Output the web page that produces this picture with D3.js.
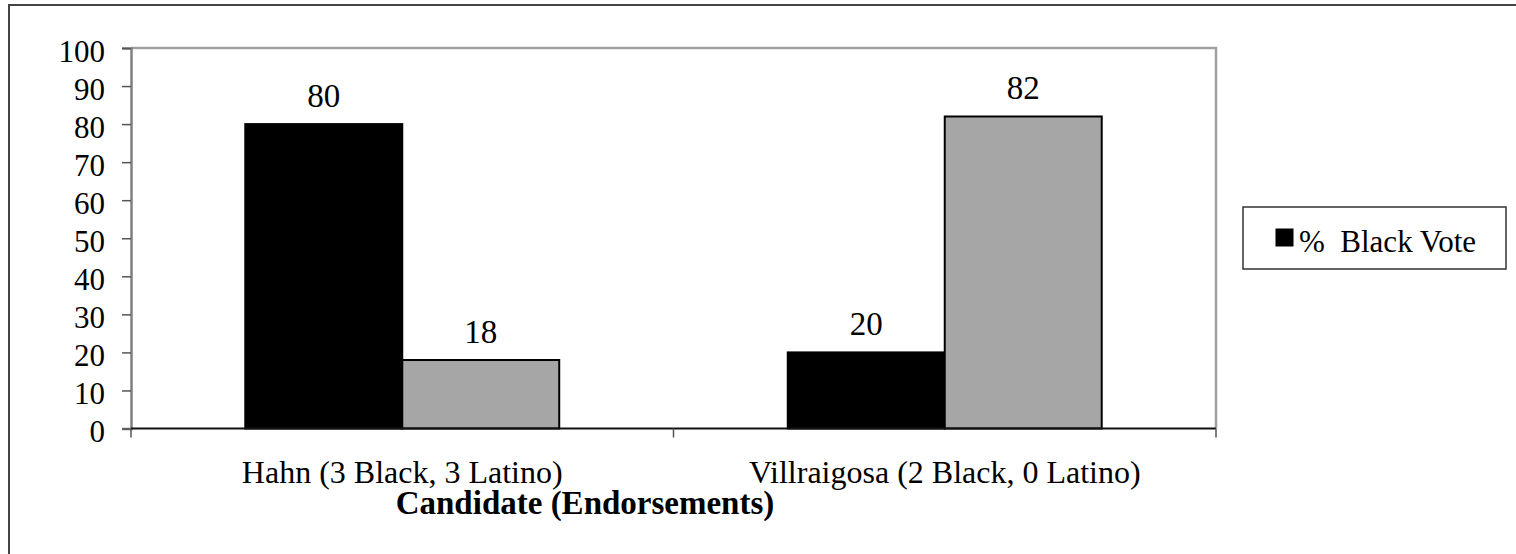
<!DOCTYPE html>
<html>
<head>
<meta charset="utf-8">
<script src="https://cdn.jsdelivr.net/npm/d3@7"></script>
<style>
  html, body { margin: 0; padding: 0; background: #fff; }
  svg { display: block; }
  svg text { font-family: "Liberation Serif", "Times New Roman", "DejaVu Serif", serif !important; fill: #000; }
</style>
</head>
<body>
<svg id="chart" width="1516" height="554"></svg>
<script>
// Candidates and their endorsements
const categories = ["Hahn (3 Black, 3 Latino)", "Villraigosa (2 Black, 0 Latino)"];
const seriesNames = ["% Black Vote", "% Latino Vote"];
const blackVote = [80, 20];
const latinoVote = [18, 82];
const yTicks = [0, 10, 20, 30, 40, 50, 60, 70, 80, 90, 100];
const xTitle = "Candidate (Endorsements)";
const legendLabel = "%  Black Vote";

const seriesColors = ["#000000", "#a6a6a6"];

const svg = d3.select("#chart").attr("font-family", "Liberation Serif, serif");
const TICK_FONT = 31;
const LABEL_FONT = 32;
const VALUE_FONT = 33;
const TITLE_FONT = 33;

// outer chart frame (open to the right and bottom)
svg.append("path")
  .attr("d", "M9,560 L9,5 L1520,5")
  .attr("fill", "none")
  .attr("stroke", "#444")
  .attr("stroke-width", 2);

const plot = { left: 131, right: 1216, top: 48, bottom: 428.5 };

const x0 = d3.scaleBand().domain(categories).range([plot.left, plot.right]).padding(0);
const x1 = d3.scaleBand().domain(seriesNames).range([0, x0.bandwidth()])
  .paddingInner(0).paddingOuter(0.728);
const y = d3.scaleLinear().domain([0, 100]).range([plot.bottom, plot.top]);

// plot-area border (top and right)
svg.append("path")
  .attr("d", `M${plot.left},${plot.top} L${plot.right},${plot.top} L${plot.right},${plot.bottom}`)
  .attr("fill", "none")
  .attr("stroke", "#a0a0a0")
  .attr("stroke-width", 2.5);

// bars
const rows = categories.map((c, i) => ({ cat: c, values: [blackVote[i], latinoVote[i]] }));
const groups = svg.append("g").selectAll("g").data(rows).join("g")
  .attr("transform", d => `translate(${x0(d.cat)},0)`);

groups.selectAll("rect")
  .data(d => d.values.map((v, j) => ({ name: seriesNames[j], value: v, color: seriesColors[j] })))
  .join("rect")
  .attr("x", d => x1(d.name))
  .attr("y", d => y(d.value))
  .attr("width", x1.bandwidth())
  .attr("height", d => y(0) - y(d.value))
  .attr("fill", d => d.color)
  .attr("stroke", "#000")
  .attr("stroke-width", 2);

// value labels
groups.selectAll("text.val")
  .data(d => d.values.map((v, j) => ({ name: seriesNames[j], value: v })))
  .join("text")
  .attr("class", "val")
  .attr("x", d => x1(d.name) + x1.bandwidth() / 2)
  .attr("y", d => y(d.value) - 17)
  .attr("text-anchor", "middle")
  .attr("font-size", VALUE_FONT)
  .text(d => d.value);

// y axis
const yAxis = d3.axisLeft(y).tickValues(yTicks).tickSize(9).tickPadding(0).tickFormat(d3.format("d"));
const gy = svg.append("g").attr("transform", `translate(${plot.left},0)`).call(yAxis)
  .attr("font-family", null).attr("font-size", null);
gy.select(".domain").attr("stroke", "#808080").attr("stroke-width", 2.5);
gy.selectAll(".tick line").attr("stroke", "#555").attr("stroke-width", 1.5);
gy.selectAll(".tick text")
  .attr("x", -26)
  .attr("dy", 13)
  .attr("font-size", TICK_FONT)
  .attr("fill", "#000");

// x axis with ticks on category boundaries
const gx = svg.append("g").attr("transform", `translate(0,${plot.bottom})`);
gx.append("line")
  .attr("x1", plot.left).attr("x2", plot.right)
  .attr("stroke", "#111").attr("stroke-width", 2);
const boundaries = [x0(categories[0])].concat(categories.map(c => x0(c) + x0.bandwidth()));
gx.selectAll("line.tk").data(boundaries).join("line")
  .attr("class", "tk")
  .attr("x1", d => d).attr("x2", d => d)
  .attr("y1", 0).attr("y2", 9)
  .attr("stroke", "#555").attr("stroke-width", 1.5);
gx.selectAll("text.cat").data(categories).join("text")
  .attr("class", "cat")
  .attr("x", d => x0(d) + x0.bandwidth() / 2)
  .attr("y", 54)
  .attr("text-anchor", "middle")
  .attr("font-size", LABEL_FONT)
  .text(d => d);

// x axis title
svg.append("text")
  .attr("x", 585)
  .attr("y", 514)
  .attr("text-anchor", "middle")
  .attr("font-size", TITLE_FONT)
  .attr("font-weight", "bold")
  .text(xTitle);

// legend
const lg = svg.append("g").attr("transform", "translate(1243,207)");
lg.append("rect")
  .attr("width", 263).attr("height", 62)
  .attr("fill", "#fff").attr("stroke", "#333").attr("stroke-width", 1.5);
lg.append("rect")
  .attr("x", 33).attr("y", 22).attr("width", 17).attr("height", 17)
  .attr("fill", seriesColors[0]).attr("stroke", "#000");
lg.append("text")
  .attr("x", 56).attr("y", 45)
  .attr("font-size", TICK_FONT)
  .attr("xml:space", "preserve")
  .style("white-space", "pre")
  .text(legendLabel);
</script>
</body>
</html>
